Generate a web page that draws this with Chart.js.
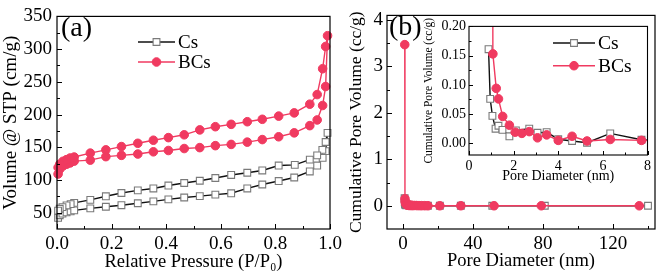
<!DOCTYPE html>
<html>
<head>
<meta charset="utf-8">
<script src="https://cdn.jsdelivr.net/npm/chart.js@4.4.1/dist/chart.umd.min.js"></script>
<style>
  html, body { margin: 0; padding: 0; background: #fff; }
  #wrap { position: relative; width: 661px; height: 278px; overflow: hidden; }
  canvas { position: absolute; }
</style>
</head>
<body>
<div id="wrap">
  <canvas id="isoChart" width="346" height="278" style="left:0;top:0"></canvas>
  <canvas id="poreChart" width="331" height="278" style="left:330px;top:0"></canvas>
  <canvas id="insetChart" width="236" height="180" style="left:418px;top:15px"></canvas>
</div>
<script>
// (a) N2 isotherm: adsorption branch up to P/P0 ~ 0.99, then desorption back down
const csPressure = [0.004, 0.01, 0.02, 0.035, 0.05, 0.063, 0.122, 0.179, 0.236, 0.296, 0.353, 0.408, 0.466, 0.523, 0.58, 0.638, 0.697, 0.752, 0.812, 0.869, 0.926, 0.953, 0.973, 0.984, 0.991,
                    0.984, 0.972, 0.953, 0.926, 0.871, 0.812, 0.752, 0.697, 0.638, 0.58, 0.523, 0.466, 0.408, 0.353, 0.296, 0.236, 0.179, 0.122, 0.063, 0.05, 0.035, 0.02, 0.01, 0.004];
const csVolume = [42, 46, 48.5, 50.5, 52, 53.5, 56.5, 59, 61.4, 64.4, 67.3, 70.3, 73.2, 75.2, 77.6, 79.6, 87, 93, 98.3, 103.7, 113, 122, 133.7, 144, 172,
                  158, 146, 137.6, 131, 123, 122, 114.5, 111, 107.6, 103, 98.8, 95.3, 91.4, 87, 84, 80, 75, 69.5, 65, 63, 61, 58.5, 56, 53];
const bcsPressure = [0.004, 0.01, 0.022, 0.035, 0.048, 0.063, 0.122, 0.179, 0.236, 0.296, 0.353, 0.408, 0.466, 0.523, 0.58, 0.638, 0.697, 0.752, 0.812, 0.869, 0.926, 0.953, 0.973, 0.984, 0.991,
                     0.984, 0.973, 0.953, 0.926, 0.869, 0.812, 0.752, 0.697, 0.638, 0.58, 0.523, 0.466, 0.408, 0.353, 0.296, 0.236, 0.179, 0.122, 0.063, 0.048, 0.035, 0.022, 0.01, 0.004];
const bcsVolume = [109, 116.5, 121.4, 124, 126, 128.8, 130.3, 135.6, 137.6, 139.6, 143, 145, 148, 149.4, 152.4, 154.3, 157.8, 161.7, 166, 172, 183, 191.7, 213.8, 242.8, 320.5,
                   304, 270, 230.5, 215.8, 202.5, 197.6, 192.7, 189, 185, 181.4, 176.5, 169, 164.7, 160.7, 156, 151, 146, 141, 135, 133.5, 131, 128.5, 124, 119];

// (b) pore size distribution
const csDiameter = [0.876, 0.95, 1.05, 1.19, 1.32, 1.5, 1.81, 2.1, 2.7, 3.07, 3.48, 4.0, 4.62, 5.29, 6.33, 7.73, 9.1, 10.6, 12.4, 14.2, 21, 33, 51, 81, 140];
const csPoreVol = [0.161, 0.076, 0.047, 0.025, 0.030, 0.023, 0.012, 0.022, 0.025, 0.018, 0.019, 0.007, 0.004, 0.001, 0.017, 0.006, 0.003, 0.002, 0.002, 0.001, 0.001, 0.001, 0.0005, 0.0005, 0.0003];
const bcsDiameter = [0.95, 1.07, 1.22, 1.32, 1.51, 1.81, 2.07, 2.37, 2.7, 3.07, 3.48, 4.0, 4.62, 5.29, 6.33, 7.73, 9.1, 10.6, 12.4, 14.2, 21, 33, 52, 79, 135];
const bcsPoreVol = [3.47, 0.153, 0.094, 0.076, 0.046, 0.031, 0.019, 0.017, 0.020, 0.0094, 0.0144, 0.005, 0.012, 0.004, 0.0066, 0.005, 0.003, 0.002, 0.002, 0.001, 0.001, 0.001, 0.0005, 0.0005, 0.0003];

// tick labels
const isoXTicks = [0, 0.2, 0.4, 0.6, 0.8, 1.0];
const isoYTicks = [50, 100, 150, 200, 250, 300, 350];
const poreXTicks = [0, 40, 80, 120];
const poreYTicks = [0, 1, 2, 3, 4];
const insetXTicks = [0, 2, 4, 6, 8];
const insetYTicks = [0, 0.05, 0.10, 0.15, 0.20];

const seriesNames = ['Cs', 'BCs'];
const BLACK = '#111';
const RED = '#f03a60';
const SERIF = '"Liberation Serif", "DejaVu Serif", serif';

const toXY = (xs, ys) => xs.map((v, i) => ({x: v, y: ys[i]}));

function makeSets(csX, csY, bcsX, bcsY, clip) {
  return [{
    label: seriesNames[0],
    data: toXY(csX, csY),
    showLine: true,
    borderColor: BLACK,
    borderWidth: 1.4,
    pointStyle: 'rect',
    pointRadius: 4.8,
    pointBorderColor: '#7a7a7a',
    pointBackgroundColor: '#fff',
    pointBorderWidth: 1.1,
    order: 2,
    clip: clip
  }, {
    label: seriesNames[1],
    data: toXY(bcsX, bcsY),
    showLine: true,
    borderColor: RED,
    borderWidth: 1.4,
    pointStyle: 'circle',
    pointRadius: 4.3,
    pointBorderColor: RED,
    pointBackgroundColor: RED,
    pointBorderWidth: 1,
    order: 1,
    clip: clip
  }];
}

// box frame, inward ticks, panel label and key drawn in the plot
const framePlugin = {
  id: 'frame',
  afterDatasetsDraw(chart, args, o) {
    const {ctx, chartArea: a, scales: {x, y}} = chart;
    ctx.save();
    ctx.strokeStyle = '#000';
    ctx.lineWidth = o.lineWidth;
    ctx.strokeRect(a.left, a.top, a.right - a.left, a.bottom - a.top);
    ctx.lineWidth = 1;
    ctx.beginPath();
    x.ticks.forEach(t => {
      const px = Math.round(x.getPixelForValue(t.value)) + 0.5;
      ctx.moveTo(px, a.bottom); ctx.lineTo(px, a.bottom - o.major);
    });
    o.xMinor.forEach(v => {
      const px = Math.round(x.getPixelForValue(v)) + 0.5;
      ctx.moveTo(px, a.bottom); ctx.lineTo(px, a.bottom - o.minor);
    });
    y.ticks.forEach(t => {
      const py = Math.round(y.getPixelForValue(t.value)) + 0.5;
      ctx.moveTo(a.left, py); ctx.lineTo(a.left + o.major, py);
    });
    o.yMinor.forEach(v => {
      const py = Math.round(y.getPixelForValue(v)) + 0.5;
      ctx.moveTo(a.left, py); ctx.lineTo(a.left + o.minor, py);
    });
    ctx.stroke();

    ctx.fillStyle = '#000';
    if (o.label) {
      ctx.font = o.labelSize + 'px ' + SERIF;
      ctx.textBaseline = 'middle';
      ctx.textAlign = 'left';
      ctx.fillText(o.label, o.labelX, o.labelY);
    }

    // key
    const k = o.key;
    chart.data.datasets.forEach((ds, i) => {
      const ly = k.y + i * k.gap;
      ctx.strokeStyle = ds.borderColor;
      ctx.lineWidth = ds.borderWidth;
      ctx.beginPath();
      ctx.moveTo(k.x, ly); ctx.lineTo(k.x + k.len, ly);
      ctx.stroke();
      const cx = k.x + k.len / 2;
      ctx.fillStyle = ds.pointBackgroundColor;
      ctx.strokeStyle = ds.pointBorderColor;
      ctx.lineWidth = ds.pointBorderWidth;
      ctx.beginPath();
      if (ds.pointStyle === 'rect') {
        const s = ds.pointRadius * Math.SQRT1_2;
        ctx.rect(cx - s, ly - s, 2 * s, 2 * s);
      } else {
        ctx.arc(cx, ly, ds.pointRadius, 0, Math.PI * 2);
      }
      ctx.fill(); ctx.stroke();
      ctx.fillStyle = '#000';
      ctx.font = k.size + 'px ' + SERIF;
      ctx.textBaseline = 'middle';
      ctx.textAlign = 'left';
      ctx.fillText(ds.label, k.x + k.len + 3, ly + 1);
    });
    ctx.restore();
  }
};

function axis(min, max, ticks, fmt, title, titleSize, tickSize, tickPad, titlePad, fitSize, horiz) {
  return {
    type: 'linear',
    min: min,
    max: max,
    afterBuildTicks: s => { s.ticks = ticks.map(v => ({value: v})); },
    afterFit: s => { if (horiz) s.height = fitSize; else s.width = fitSize; },
    grid: {display: false, drawTicks: false},
    border: {display: false},
    ticks: {
      color: '#000',
      padding: tickPad,
      maxRotation: 0,
      autoSkip: false,
      font: {family: SERIF, size: tickSize},
      callback: fmt
    },
    title: {
      display: true,
      text: title,
      color: '#000',
      padding: titlePad,
      font: {family: SERIF, size: titleSize}
    }
  };
}

Chart.defaults.animation = false;

new Chart(document.getElementById('isoChart'), {
  type: 'scatter',
  data: {datasets: makeSets(csPressure, csVolume, bcsPressure, bcsVolume, false)},
  options: {
    responsive: false,
    layout: {autoPadding: false, padding: {top: 10, right: 16, left: 0, bottom: 0}},
    scales: {
      x: axis(0, 1.0, isoXTicks, v => v.toFixed(1), 'Relative Pressure (P/P\u2080)', 18.5, 19, 4, {top: 0, bottom: 5}, 49, true),
      y: axis(25, 350, isoYTicks, v => String(v), 'Volume @ STP (cm/g)', 19, 19, 5, {top: 0, bottom: 0}, 57, false)
    },
    plugins: {
      legend: {display: false},
      tooltip: {enabled: false},
      frame: {
        lineWidth: 1.2, major: 5, minor: 3,
        xMinor: [0.1, 0.3, 0.5, 0.7, 0.9],
        yMinor: [75, 125, 175, 225, 275, 325],
        label: '(a)', labelSize: 28, labelX: 61, labelY: 29,
        key: {x: 138, y: 42, gap: 20, len: 37, size: 19}
      }
    }
  },
  plugins: [framePlugin]
});

new Chart(document.getElementById('poreChart'), {
  type: 'scatter',
  data: {datasets: makeSets(csDiameter, csPoreVol, bcsDiameter, bcsPoreVol, true)},
  options: {
    responsive: false,
    layout: {autoPadding: false, padding: {top: 10, right: 6, left: 0, bottom: 0}},
    scales: {
      x: axis(-9.2, 144, poreXTicks, v => String(v), 'Pore Diameter (nm)', 18.5, 19, 4, {top: 0, bottom: 6}, 49, true),
      y: axis(-0.5, 4.1, poreYTicks, v => String(v), 'Cumulative Pore Volume (cc/g)', 17.5, 19, 4, {top: 16, bottom: 0}, 57, false)
    },
    plugins: {
      legend: {display: false},
      tooltip: {enabled: false},
      frame: {
        lineWidth: 1.2, major: 5, minor: 3,
        xMinor: [20, 60, 100, 140],
        yMinor: [0.5, 1.5, 2.5, 3.5],
        label: '(b)', labelSize: 28, labelX: 59, labelY: 28,
        key: {x: -100, y: -100, gap: 0, len: 0, size: 1}
      }
    }
  },
  plugins: [framePlugin]
});

new Chart(document.getElementById('insetChart'), {
  type: 'scatter',
  data: {datasets: makeSets(csDiameter, csPoreVol, bcsDiameter, bcsPoreVol, true)},
  options: {
    responsive: false,
    layout: {autoPadding: false, padding: {top: 8, right: 5, left: 0, bottom: 0}},
    scales: {
      x: axis(0, 8, insetXTicks, v => String(v), 'Pore Diameter (nm)', 14, 14, 3, {top: 0, bottom: 10}, 40, true),
      y: axis(-0.02, 0.20, insetYTicks, v => v.toFixed(2), 'Cumulative Pore Volume (cc/g)', 11.5, 14, 3, {top: 4, bottom: 0}, 51, false)
    },
    plugins: {
      legend: {display: false},
      tooltip: {enabled: false},
      frame: {
        lineWidth: 1.1, major: 4, minor: 2.5,
        xMinor: [1, 3, 5, 7],
        yMinor: [0.025, 0.075, 0.125, 0.175],
        label: '',
        key: {x: 135, y: 28, gap: 22.7, len: 42, size: 19.5}
      }
    }
  },
  plugins: [framePlugin]
});
</script>
</body>
</html>
